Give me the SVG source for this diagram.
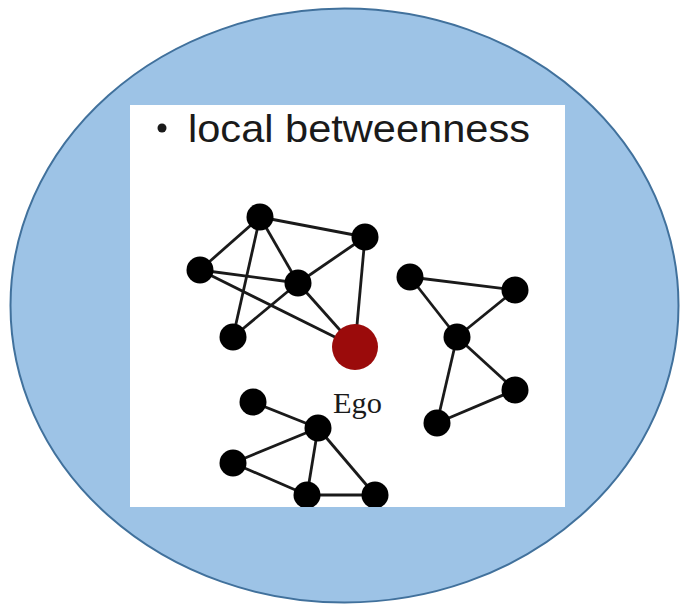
<svg xmlns="http://www.w3.org/2000/svg" width="680" height="605" viewBox="0 0 680 605">
<defs>
<style>
.edge{stroke:#1a1a1a;stroke-width:2.8;fill:none}
.node{fill:#000}
.title{font-family:"Liberation Sans",Arial,sans-serif;font-size:39px;fill:#1a1a1a}
.lbl{font-family:"Liberation Serif","Times New Roman",serif;font-size:29px;fill:#1a1a1a}
</style>
<clipPath id="pic"><rect x="130" y="105" width="435" height="402"/></clipPath>
</defs>
<rect width="680" height="605" fill="#fff"/>
<ellipse cx="344.5" cy="305.5" rx="334" ry="297" fill="#9DC3E6" stroke="#41719C" stroke-width="2"/>
<rect x="130" y="105" width="435" height="402" fill="#fff"/>
<circle cx="162" cy="128" r="4.5" fill="#1a1a1a"/>
<text class="title" x="188" y="142" textLength="342" lengthAdjust="spacingAndGlyphs">local betweenness</text>
<g clip-path="url(#pic)">
<g id="connectors">
<line class="edge" x1="260" y1="217" x2="365" y2="237"/>
<line class="edge" x1="260" y1="217" x2="200" y2="270"/>
<line class="edge" x1="260" y1="217" x2="298" y2="283"/>
<line class="edge" x1="260" y1="217" x2="233" y2="337"/>
<line class="edge" x1="200" y1="270" x2="298" y2="283"/>
<line class="edge" x1="200" y1="270" x2="355" y2="347"/>
<line class="edge" x1="298" y1="283" x2="365" y2="237"/>
<line class="edge" x1="298" y1="283" x2="233" y2="337"/>
<line class="edge" x1="298" y1="283" x2="355" y2="347"/>
<line class="edge" x1="365" y1="237" x2="355" y2="347"/>
<line class="edge" x1="410" y1="277" x2="515" y2="290"/>
<line class="edge" x1="410" y1="277" x2="457" y2="337"/>
<line class="edge" x1="515" y1="290" x2="457" y2="337"/>
<line class="edge" x1="457" y1="337" x2="515" y2="390"/>
<line class="edge" x1="457" y1="337" x2="437" y2="423"/>
<line class="edge" x1="515" y1="390" x2="437" y2="423"/>
<line class="edge" x1="253" y1="402" x2="318" y2="428"/>
<line class="edge" x1="318" y1="428" x2="233" y2="463"/>
<line class="edge" x1="318" y1="428" x2="307" y2="495"/>
<line class="edge" x1="318" y1="428" x2="375" y2="495"/>
<line class="edge" x1="233" y1="463" x2="307" y2="495"/>
<line class="edge" x1="307" y1="495" x2="375" y2="495"/>
</g>
<g id="nA"><circle class="node" cx="260" cy="217" r="13.5"/></g>
<g id="nB"><circle class="node" cx="365" cy="237" r="13.5"/></g>
<g id="nC"><circle class="node" cx="200" cy="270" r="13.5"/></g>
<g id="nD"><circle class="node" cx="298" cy="283" r="13.5"/></g>
<g id="nE"><circle class="node" cx="233" cy="337" r="13.5"/></g>
<g id="ego"><circle cx="355" cy="347" r="23" fill="#9B0B0B"/><text class="lbl" x="333" y="413" textLength="49" lengthAdjust="spacingAndGlyphs">Ego</text></g>
<g id="nF"><circle class="node" cx="410" cy="277" r="13.5"/></g>
<g id="nG"><circle class="node" cx="515" cy="290" r="13.5"/></g>
<g id="nH"><circle class="node" cx="457" cy="337" r="13.5"/></g>
<g id="nI"><circle class="node" cx="515" cy="390" r="13.5"/></g>
<g id="nJ"><circle class="node" cx="437" cy="423" r="13.5"/></g>
<g id="nK"><circle class="node" cx="253" cy="402" r="13.5"/></g>
<g id="nL"><circle class="node" cx="318" cy="428" r="13.5"/></g>
<g id="nM"><circle class="node" cx="233" cy="463" r="13.5"/></g>
<g id="nN"><circle class="node" cx="307" cy="495" r="13.5"/></g>
<g id="nO"><circle class="node" cx="375" cy="495" r="13.5"/></g>
</g>
</svg>
